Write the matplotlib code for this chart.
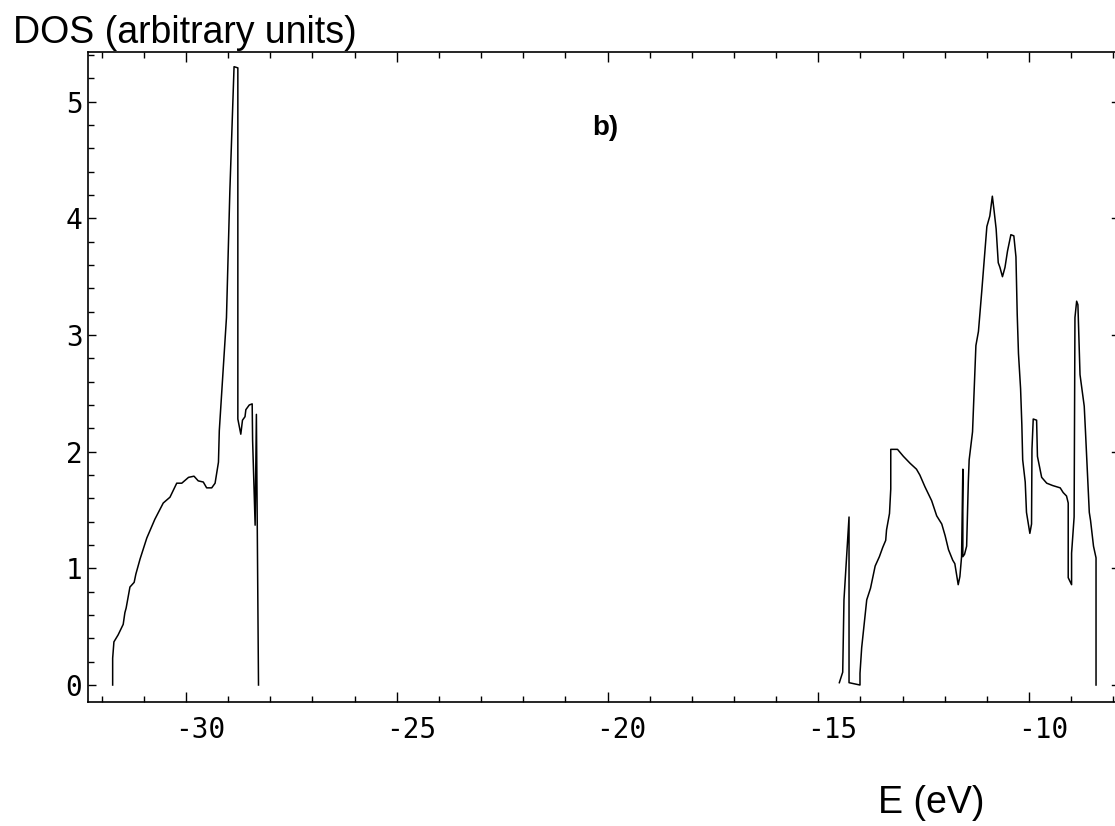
import matplotlib
matplotlib.use('Agg')
import matplotlib.pyplot as plt
import matplotlib.transforms as mtransforms
from matplotlib.ticker import MultipleLocator

# lower band (E in eV, DOS in arbitrary units)
e_low = [-31.74, -31.74, -31.71, -31.61, -31.49, -31.45, -31.42, -31.33, -31.23,
         -31.19, -31.09, -30.93, -30.74, -30.54, -30.38, -30.22, -30.10, -29.94,
         -29.81, -29.71, -29.59, -29.51, -29.39, -29.31, -29.27, -29.23, -29.21,
         -29.04, -28.96, -28.86, -28.77, -28.77, -28.70, -28.66, -28.60, -28.58,
         -28.50, -28.43, -28.42, -28.36, -28.33, -28.28]
dos_low = [0.0, 0.23, 0.37, 0.43, 0.52, 0.62, 0.66, 0.84, 0.88,
           0.95, 1.08, 1.26, 1.42, 1.56, 1.61, 1.73, 1.73, 1.78,
           1.79, 1.75, 1.74, 1.69, 1.69, 1.73, 1.82, 1.91, 2.18,
           3.15, 4.23, 5.30, 5.29, 2.28, 2.15, 2.27, 2.30, 2.36,
           2.40, 2.41, 2.10, 1.37, 2.32, 0.0]

# upper band
e_up = [-14.50, -14.42, -14.39, -14.27, -14.27, -14.01, -14.01, -13.97, -13.85,
        -13.76, -13.65, -13.55, -13.47, -13.40, -13.38, -13.31, -13.28, -13.28,
        -13.12, -12.98, -12.82, -12.67, -12.59, -12.47, -12.31, -12.19, -12.07,
        -11.99, -11.91, -11.81, -11.76, -11.68, -11.64, -11.60, -11.57, -11.57,
        -11.53, -11.48, -11.44, -11.42, -11.34, -11.30, -11.26, -11.20, -11.12,
        -11.07, -11.00, -10.93, -10.87, -10.83, -10.78, -10.73, -10.69, -10.63,
        -10.57, -10.51, -10.43, -10.36, -10.31, -10.28, -10.25, -10.20, -10.17,
        -10.15, -10.09, -10.06, -9.98, -9.94, -9.93, -9.90, -9.82, -9.80,
        -9.75, -9.70, -9.58, -9.44, -9.26, -9.19, -9.11, -9.07, -9.07,
        -8.99, -8.99, -8.93, -8.91, -8.87, -8.84, -8.79, -8.69, -8.66,
        -8.57, -8.54, -8.47, -8.41, -8.41]
dos_up = [0.02, 0.11, 0.73, 1.44, 0.02, 0.0, 0.10, 0.32, 0.73,
          0.83, 1.02, 1.10, 1.18, 1.24, 1.33, 1.47, 1.68, 2.02,
          2.02, 1.96, 1.90, 1.85, 1.80, 1.70, 1.58, 1.45, 1.38,
          1.28, 1.16, 1.07, 1.04, 0.86, 0.93, 1.10, 1.85, 1.10,
          1.12, 1.19, 1.74, 1.93, 2.17, 2.54, 2.91, 3.03, 3.38,
          3.61, 3.93, 4.02, 4.19, 4.07, 3.91, 3.62, 3.58, 3.50,
          3.58, 3.72, 3.86, 3.85, 3.67, 3.18, 2.84, 2.54, 2.23,
          1.93, 1.74, 1.48, 1.30, 1.38, 2.02, 2.28, 2.27, 1.96,
          1.87, 1.78, 1.73, 1.71, 1.69, 1.65, 1.62, 1.56, 0.92,
          0.86, 1.13, 1.44, 3.15, 3.29, 3.26, 2.66, 2.39, 2.17,
          1.48, 1.41, 1.19, 1.09, 0.0]

x_major = [-30, -25, -20, -15, -10]

fig = plt.figure(figsize=(11.15, 8.26), dpi=100)
ax = fig.add_axes([88 / 1115, 1 - 701.7 / 826, 1 - 88 / 1115, (701.7 - 52) / 826])

ax.plot(e_low, dos_low, color='black', lw=1.1)
ax.plot(e_up, dos_up, color='black', lw=1.1)

ax.set_xlim(-32.325, -7.96)
ax.set_ylim(-0.143, 5.426)

ax.xaxis.set_major_locator(MultipleLocator(5))
ax.xaxis.set_minor_locator(MultipleLocator(1))
ax.yaxis.set_major_locator(MultipleLocator(1))
ax.yaxis.set_minor_locator(MultipleLocator(0.2))
ax.set_xticks(x_major)
ax.set_xticklabels([str(v) for v in x_major])

ax.spines['right'].set_visible(False)
for s in ['left', 'bottom', 'top']:
    ax.spines[s].set_linewidth(1.2)

ax.tick_params(axis='x', which='both', direction='in', top=True, bottom=True,
               labelsize=20, pad=10)
ax.tick_params(axis='x', which='major', length=7, width=1.0)
ax.tick_params(axis='x', which='minor', length=4.5, width=1.0)
ax.tick_params(axis='y', which='both', direction='in', left=True, right=False,
               labelsize=20, pad=4)
ax.tick_params(axis='y', which='major', length=6, width=1.0)
ax.tick_params(axis='y', which='minor', length=4, width=1.0)
for lab in ax.get_xticklabels() + ax.get_yticklabels():
    lab.set_family('DejaVu Sans Mono')

# short right-hand marks at the integer DOS values only
for v in range(0, 6):
    ax.plot([0.997, 1.0], [v, v], transform=ax.get_yaxis_transform(),
            color='black', lw=1.0, clip_on=False)

# labels in Mathematica sit a little to the right of their ticks
shift = mtransforms.ScaledTranslation(14 / 100, 0, fig.dpi_scale_trans)
for lab in ax.get_xticklabels():
    lab.set_transform(lab.get_transform() + shift)

fig.text(13 / 1115, 1 - 43 / 826, 'DOS (arbitrary units)', fontsize=27,
         family='Liberation Sans', va='baseline', ha='left')
fig.text(878 / 1115, 1 - 813 / 826, 'E (eV)', fontsize=27,
         family='Liberation Sans', va='baseline', ha='left')
fig.text(592 / 1115, 1 - 135 / 826, 'b)', fontsize=20, fontweight='bold',
         family='Liberation Sans', va='baseline', ha='left')

fig.savefig('out.png', dpi=100)
